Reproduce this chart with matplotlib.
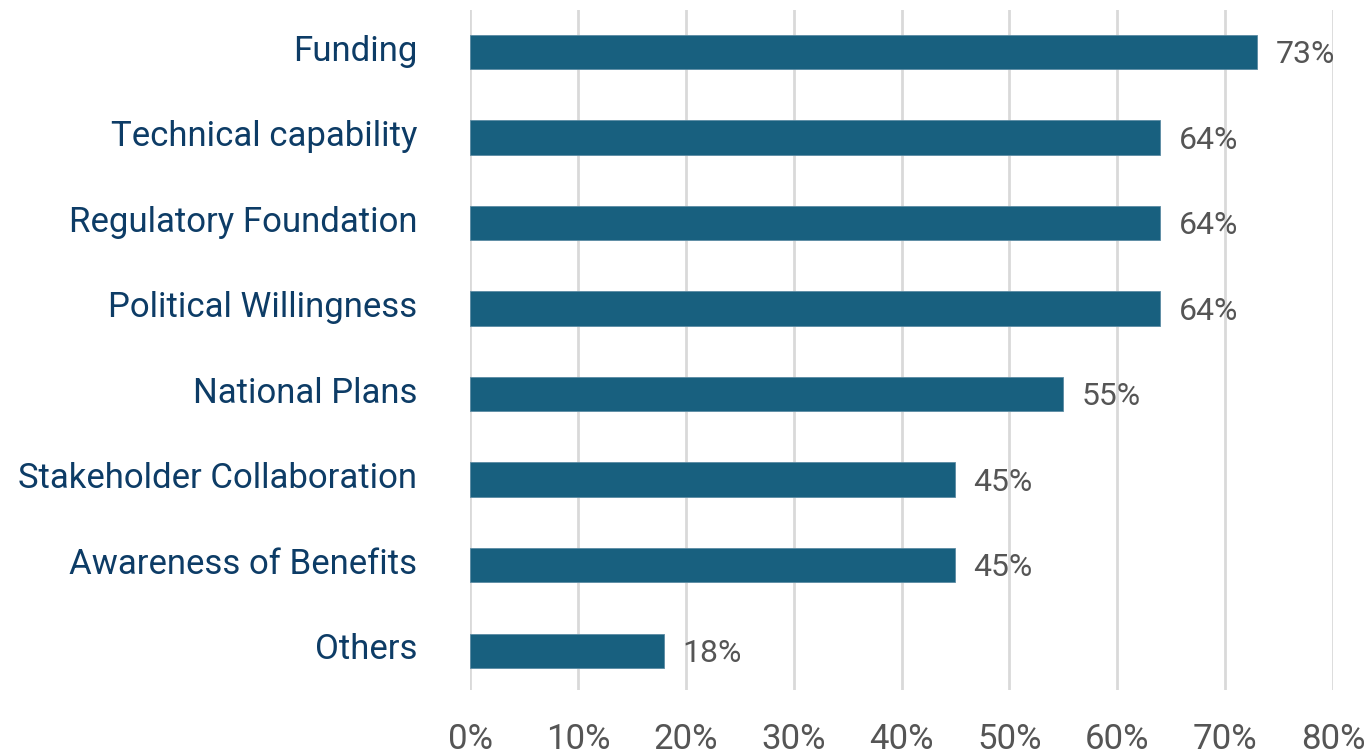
import matplotlib
matplotlib.use("Agg")
import matplotlib.pyplot as plt
import matplotlib.transforms as mtransforms
from matplotlib.ticker import FuncFormatter

categories = ["Funding", "Technical capability", "Regulatory Foundation",
              "Political Willingness", "National Plans", "Stakeholder Collaboration",
              "Awareness of Benefits", "Others"]
values = [73, 64, 64, 64, 55, 45, 45, 18]
xticks = [0, 10, 20, 30, 40, 50, 60, 70, 80]

plt.rcParams['font.family'] = ['Roboto', 'DejaVu Sans']

fig = plt.figure(figsize=(13.68, 7.54), dpi=100)
ax = fig.add_axes([470/1368, 1-690/754, (1333-470)/1368, 680/754])

y = list(range(len(categories)))
ax.barh(y, values, height=0.4, color="#18607F", edgecolor="#5b8ba3", linewidth=0.6, zorder=3)

for yi, v in zip(y, values):
    ax.annotate(f"{v}%", xy=(v, yi), xytext=(13, -2), textcoords="offset points",
                va="center", ha="left", fontsize=23, color="#555555", zorder=4)

ax.set_xlim(0, 80)
ax.set_ylim(7.46, -0.49)
ax.set_xticks(xticks)
ax.xaxis.set_major_formatter(FuncFormatter(lambda x, p: f"{int(x)}%"))
ax.set_yticks(y)
ax.set_yticklabels(categories)
ax.tick_params(axis="y", length=0, pad=38, labelsize=25, labelcolor="#0d3c66")
ax.tick_params(axis="x", length=0, pad=24, labelsize=25, labelcolor="#555555")
ax.grid(axis="x", color="#d9d9d9", linewidth=2, zorder=0)
ax.set_axisbelow(True)
for s in ax.spines.values():
    s.set_visible(False)

shift = mtransforms.ScaledTranslation(0, 3/72, fig.dpi_scale_trans)
for lbl in ax.get_yticklabels():
    lbl.set_transform(lbl.get_transform() + shift)

fig.savefig("out.png", dpi=100, facecolor="white")
